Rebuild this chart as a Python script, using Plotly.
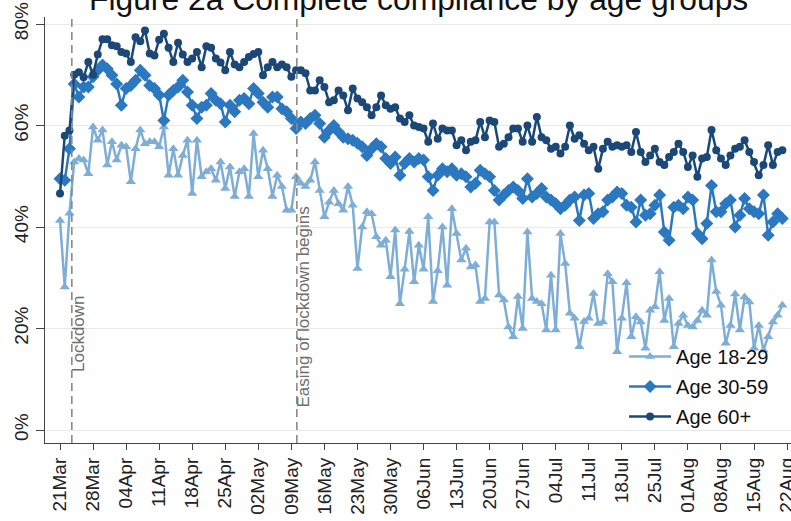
import pandas as pd
import plotly.graph_objects as go

start_date = "2020-03-21"
series_names = ["Age 18-29", "Age 30-59", "Age 60+"]

age_18_29 = [41.3, 28.2, 42.7, 52.8, 53.5, 53.2, 50.5, 59.7, 57.1, 59.1, 52.2, 56.8, 53.2, 56.1, 55.8, 48.9,
             55.4, 59.1, 56.4, 56.8, 56.8, 55.8, 59.7, 50.2, 55.4, 50.2, 54.1, 57.1, 46.6, 57.1, 49.9, 50.9,
             51.5, 49.2, 52.8, 47.6, 51.8, 46.0,
             50.9, 51.5, 46.0, 58.4, 49.9, 55.1, 51.5, 46.0, 50.2, 48.0, 43.3, 43.3, 49.9, 48.6, 48.0, 49.2,
             52.8, 47.2, 42.0, 44.9, 47.2, 44.6, 43.3, 48.0, 44.3, 31.8, 40.0, 43.0, 42.6, 38.1, 36.4, 37.4,
             30.2, 39.4, 24.9, 31.7, 39.1, 29.2, 36.4,
             31.7, 42.0, 25.3, 31.4, 40.0, 28.5, 43.6, 38.7, 33.5, 35.8, 32.1, 32.5, 25.3, 25.9, 41.0, 41.0,
             26.6, 25.6, 20.3, 18.4, 26.3, 20.0, 39.0, 25.9, 25.3, 24.9, 19.7, 30.5, 19.7, 38.7, 32.8, 23.0,
             22.0, 16.4, 21.4, 22.0, 26.9, 21.0,
             21.3, 30.8, 29.2, 15.4, 22.0, 29.0, 18.4, 22.3, 21.3, 16.1, 23.6, 24.3, 31.2, 21.6, 25.9, 16.4,
             21.0, 22.6, 20.6, 20.3, 21.6, 23.6, 22.6, 33.5, 27.3, 24.6, 17.1, 20.6, 26.8, 19.7, 26.2, 25.2,
             16.1, 20.6, 15.7, 18.4, 21.3, 22.6, 24.6]

age_30_59 = [49.5, 49.2, 55.4, 68.2, 65.6, 67.6, 67.6, 69.6, 70.9, 71.9, 71.2, 69.9, 68.2, 64.0, 67.3, 67.9,
             68.9, 70.9, 69.9, 67.9, 67.3, 66.0, 61.0, 66.0, 66.9, 67.6, 68.9, 66.6, 64.0, 61.4, 63.6, 64.0,
             66.3, 65.0, 64.3, 60.7, 64.0,
             62.7, 65.0, 65.3, 64.3, 67.3, 66.3, 64.6, 63.6, 65.6, 65.6, 63.3, 62.7, 61.4, 59.4, 60.7, 60.4,
             61.4, 62.0, 60.4, 57.7, 59.0, 60.0, 58.7, 57.7, 57.4, 57.1, 56.5, 55.8, 54.1, 55.4, 56.4, 55.8,
             53.5, 52.5, 53.8, 50.2, 52.5, 53.5, 52.8, 53.5,
             53.2, 49.9, 47.2, 50.2, 51.5, 50.9, 51.5, 50.2, 50.5, 49.9, 47.9, 48.6, 51.2, 50.5, 49.9, 47.2,
             45.3, 46.3, 47.2, 47.9, 47.2, 45.6, 49.5, 45.9, 46.6, 47.6, 45.9, 45.3, 44.6, 43.6, 44.3, 45.3,
             45.9, 41.3, 46.3, 46.6, 41.7, 42.6,
             43.0, 45.3, 45.9, 46.9, 46.6, 44.3, 43.9, 41.0, 45.3, 42.3, 42.6, 44.3, 46.3, 39.0, 37.4, 43.9,
             44.3, 43.6, 45.9, 45.3, 38.7, 37.7, 40.7, 48.2, 43.0, 43.0, 44.6, 45.3, 40.0, 42.3, 45.6, 43.6,
             43.0, 42.6, 46.3, 38.4, 41.0, 42.6, 41.7]

age_60_plus = [46.6, 58.0, 59.0, 70.0, 70.5, 69.5, 72.5, 70.0, 74.0, 77.0, 77.0, 75.8, 75.6, 74.5, 74.2, 72.5,
               77.4, 76.6, 78.7, 74.2, 73.8, 76.9, 78.1, 75.3, 72.5, 76.3, 74.0, 72.5, 73.2, 74.5, 71.5, 75.6,
               75.3, 73.2, 72.4, 70.9, 74.5, 72.0,
               71.5, 72.5, 73.5, 74.1, 74.5, 69.9, 71.5, 72.5, 71.5, 72.0, 71.5, 69.6, 70.9, 70.9, 70.3, 66.9,
               66.9, 68.9, 67.6, 64.6, 65.0, 66.9, 65.9, 63.0, 67.3, 65.3, 64.6, 63.6, 62.0, 63.6, 65.9, 64.0,
               63.3, 63.6, 61.4, 60.7, 62.0, 60.0, 59.7,
               59.4, 56.8, 60.4, 57.4, 59.4, 59.0, 59.0, 56.1, 57.1, 55.1, 56.8, 57.1, 60.7, 57.7, 61.0, 60.7,
               55.8, 56.4, 57.7, 59.4, 59.4, 56.8, 60.0, 56.8, 61.7, 57.7, 57.1, 55.4, 55.8, 54.5, 55.8, 60.0,
               57.4, 58.1, 56.4, 55.1, 55.8, 51.5,
               55.4, 56.8, 55.8, 56.1, 55.8, 56.1, 54.8, 58.7, 54.8, 52.8, 54.1, 55.4, 52.8, 52.2, 53.8, 54.8,
               56.4, 54.8, 51.8, 54.1, 49.9, 53.5, 53.8, 59.1, 55.1, 53.5, 52.2, 54.1, 55.4, 55.8, 57.1, 54.8,
               52.8, 50.2, 52.2, 56.1, 52.2, 54.8, 55.1]

event_dates = ["2020-03-23 12:00", "2020-05-10 04:00"]
event_labels = ["Lockdown", "Easing of lockdown begins"]
event_label_y = [11.0, 4.0]

tick_dates = pd.date_range("2020-03-21", "2020-08-22", freq="7D")
y_ticks = [0, 20, 40, 60, 80]

n = max(len(age_18_29), len(age_30_59), len(age_60_plus))
dates = pd.date_range(start_date, periods=n)

colors = ["#7eadd6", "#2b78c0", "#1b4877"]
symbols = ["triangle-up", "diamond", "circle"]
sizes = [9, 10, 8]

fig = go.Figure()
for i, (name, vals) in enumerate(zip(series_names, [age_18_29, age_30_59, age_60_plus])):
    fig.add_trace(go.Scatter(
        x=dates[:len(vals)], y=vals, name=name, mode="lines+markers",
        line=dict(color=colors[i], width=2.5),
        marker=dict(symbol=symbols[i], size=sizes[i], color=colors[i]),
        legendgroup=name,
    ))

for d, lab, ly in zip(event_dates, event_labels, event_label_y):
    fig.add_shape(type="line", x0=d, x1=d, xref="x", yref="paper", y0=0, y1=1,
                  line=dict(color="#8a8a8a", width=1.6, dash="8px,5px"))
    fig.add_annotation(x=d, y=ly, xref="x", yref="y", text=lab, textangle=-90,
                       showarrow=False, xanchor="left", yanchor="bottom", xshift=-5,
                       font=dict(family="Liberation Sans, Arial", size=17, color="#6e6e6e"))

fig.add_annotation(text="Figure 2a Complete compliance by age groups", xref="paper", yref="paper",
                   x=0.5, y=1.042, xanchor="center", yanchor="middle", showarrow=False,
                   font=dict(family="Liberation Sans, Arial", size=31.8, color="#111111"))

fig.update_layout(
    width=791, height=521,
    margin=dict(l=45, r=0, t=17, b=78),
    paper_bgcolor="white", plot_bgcolor="white",
    font=dict(family="Liberation Sans, Arial", size=19, color="#222222"),
    showlegend=True,
    legend=dict(x=0.7762, y=0.249, xanchor="left", yanchor="top", bgcolor="rgba(0,0,0,0)",
                font=dict(size=20, color="#111111"), tracegroupgap=1, traceorder="grouped",
                itemwidth=42),
)
fig.update_xaxes(
    range=["2020-03-17 19:40", "2020-08-22 20:00"], automargin=False,
    tickvals=tick_dates, tickformat="%d%b", tickangle=-90, ticklabeloverflow="allow",
    showgrid=False, showline=True, linecolor="#444444", linewidth=1.3,
    ticks="outside", ticklen=6, tickcolor="#444444", zeroline=False,
)
fig.update_yaxes(
    range=[-2.56, 81.38], automargin=False, tickvals=y_ticks,
    ticktext=[f"{v}%" for v in y_ticks], tickangle=-90,
    showgrid=True, gridcolor="#e9e9e9", gridwidth=1,
    showline=True, linecolor="#444444", linewidth=1.3,
    ticks="outside", ticklen=8, tickcolor="#444444", zeroline=False,
)

fig.write_html("out.html", config={"displayModeBar": False},
               post_script="document.body.style.margin='0px';")
